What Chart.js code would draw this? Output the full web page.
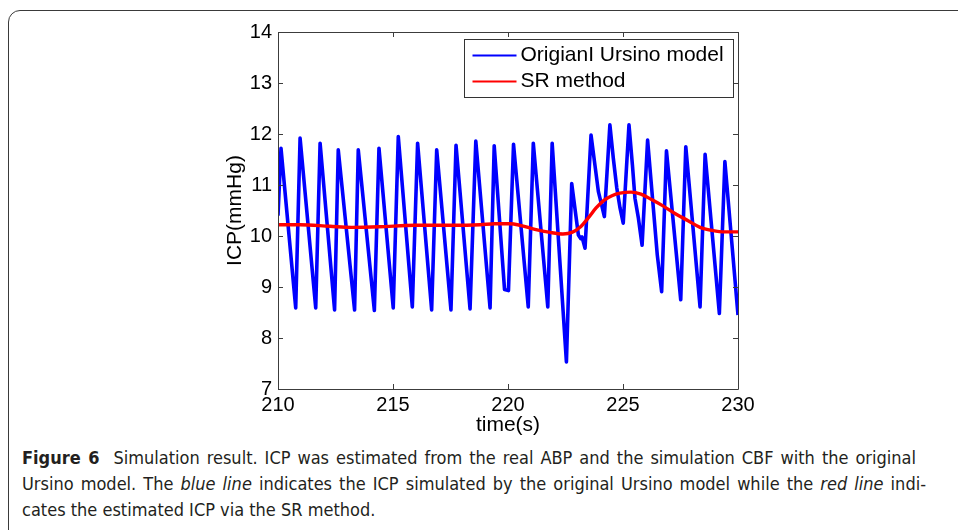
<!DOCTYPE html>
<html><head><meta charset="utf-8">
<script src="https://cdn.jsdelivr.net/npm/chart.js@4/dist/chart.umd.min.js"></script>
<style>
html,body{margin:0;padding:0;background:#fff;}
#wrap{position:relative;width:958px;height:530px;overflow:hidden;background:#fff;}
#frame{position:absolute;left:8px;top:10px;width:1000px;height:600px;border:1.5px solid #3a3a3a;border-top-left-radius:12px;box-sizing:border-box;}
#cv{position:absolute;left:0;top:0;}
.cap{position:absolute;left:22px;font-family:"DejaVu Sans Condensed","Liberation Sans Narrow","Roboto",sans-serif;font-stretch:condensed;font-size:18px;color:#231f20;line-height:26px;white-space:nowrap;}
.j{text-align:justify;text-align-last:justify;}
</style></head>
<body><div id="wrap"><div id="frame"></div>
<canvas id="cv" width="958" height="445"></canvas>
<div class="cap j" style="top:445px;width:894px"><b>Figure 6</b>&nbsp; Simulation result. ICP was estimated from the real ABP and the simulation CBF with the original</div>
<div class="cap j" style="top:471px;width:904px">Ursino model. The <i>blue line</i> indicates the ICP simulated by the original Ursino model while the <i>red line</i> indi-</div>
<div class="cap" style="top:497px;">cates the estimated ICP via the SR method.</div>
</div>
<script>
// ---- data ----
const seriesNames = ["OrigianI Ursino model", "SR method"];
const ursinoTime = [210.00,210.13,210.77,210.96,211.64,211.83,212.46,212.62,213.33,213.49,214.19,214.39,215.01,215.23,215.84,216.07,216.68,216.90,217.52,217.74,218.35,218.60,219.22,219.40,219.85,220.02,220.24,220.88,221.10,221.73,221.92,222.54,222.77,223.06,223.16,223.22,223.35,223.61,223.78,223.93,224.07,224.19,224.43,224.58,224.73,224.87,225.01,225.26,225.41,225.52,225.67,225.83,226.07,226.32,226.49,226.68,226.89,227.51,227.73,228.35,228.57,229.19,229.43,230.00];
const ursinoICP  = [10.40,11.72,8.59,11.92,8.59,11.82,8.55,11.69,8.55,11.69,8.54,11.72,8.59,11.95,8.61,11.82,8.55,11.69,8.55,11.78,8.57,11.86,8.59,11.77,8.95,8.93,11.80,8.61,11.82,8.61,11.82,7.53,11.03,10.02,9.95,9.98,9.76,11.98,11.39,10.87,10.61,10.38,12.18,11.52,10.94,10.55,10.25,12.18,11.39,10.74,10.35,9.82,11.88,10.54,9.63,8.91,11.67,8.75,11.75,8.61,11.60,8.48,11.46,8.45];
const srTime = [210.00,210.96,212.26,213.20,214.40,215.96,217.48,218.78,219.43,220.09,220.52,221.17,221.83,222.39,222.78,223.13,223.48,223.83,224.17,224.52,224.87,225.35,225.78,226.26,226.70,227.26,227.83,228.35,228.87,229.43,230.00];
const srICP  = [10.22,10.22,10.19,10.17,10.18,10.21,10.21,10.22,10.24,10.24,10.21,10.13,10.07,10.04,10.07,10.17,10.35,10.55,10.70,10.79,10.84,10.86,10.82,10.71,10.60,10.44,10.30,10.17,10.11,10.08,10.08];
const xTicks = [210,215,220,225,230];
const yTicks = [7,8,9,10,11,12,13,14];

const toXY = (xs, ys) => xs.map((x, i) => ({x, y: ys[i]}));

const AXIS_COLOR = '#3c3c3c';
const FONT = '"Liberation Sans", Arial, Helvetica, sans-serif';

const boxPlugin = {
  id: 'matlabBox',
  afterDatasetsDraw(chart) {
    const {ctx, chartArea: a, scales: {x, y}} = chart;
    ctx.save();
    ctx.strokeStyle = AXIS_COLOR;
    ctx.lineWidth = 1;
    ctx.beginPath();
    ctx.rect(Math.round(a.left) + 0.5, Math.round(a.top) + 0.5, Math.round(a.right - a.left), Math.round(a.bottom - a.top));
    const tl = 5;
    xTicks.forEach(v => {
      const px = Math.round(x.getPixelForValue(v)) + 0.5;
      ctx.moveTo(px, a.bottom); ctx.lineTo(px, a.bottom - tl);
      ctx.moveTo(px, a.top); ctx.lineTo(px, a.top + tl);
    });
    yTicks.forEach(v => {
      const py = Math.round(y.getPixelForValue(v)) + 0.5;
      ctx.moveTo(a.left, py); ctx.lineTo(a.left + tl, py);
      ctx.moveTo(a.right, py); ctx.lineTo(a.right - tl, py);
    });
    ctx.stroke();

    // legend (MATLAB style, inside axes, north-east)
    const lw = 269, lh = 58;
    const lx = Math.round(a.right - 5 - lw) + 0.5, ly = Math.round(a.top + 7) + 0.5;
    ctx.fillStyle = '#fff';
    ctx.fillRect(lx, ly, lw, lh);
    ctx.strokeStyle = '#333';
    ctx.strokeRect(lx, ly, lw, lh);
    ctx.font = '21px ' + FONT;
    ctx.textBaseline = 'middle';
    ctx.textAlign = 'left';
    chart.data.datasets.forEach((ds, i) => {
      const cy = ly + 16 + i * 26;
      ctx.strokeStyle = ds.borderColor;
      ctx.lineWidth = 2;
      ctx.beginPath();
      ctx.moveTo(lx + 8, cy); ctx.lineTo(lx + 52, cy);
      ctx.stroke();
      ctx.fillStyle = '#000';
      ctx.fillText(ds.label, lx + 56, cy);
    });
    ctx.restore();
  }
};

new Chart(document.getElementById('cv'), {
  type: 'line',
  data: {
    datasets: [
      {label: seriesNames[0], data: toXY(ursinoTime, ursinoICP), borderColor: '#0000ff', borderWidth: 3.6, pointRadius: 0, tension: 0, order: 2, borderJoinStyle: 'round'},
      {label: seriesNames[1], data: toXY(srTime, srICP), borderColor: '#ff0000', borderWidth: 3.4, pointRadius: 0, cubicInterpolationMode: 'monotone', order: 1}
    ]
  },
  options: {
    responsive: false,
    animation: false,
    layout: {padding: {left: 220, right: 220, top: 32, bottom: 5.4}},
    plugins: {legend: {display: false}, tooltip: {enabled: false}},
    scales: {
      x: {
        type: 'linear', min: 210, max: 230,
        afterBuildTicks: s => { s.ticks = xTicks.map(v => ({value: v})); },
        grid: {display: false, drawTicks: false},
        border: {display: false},
        ticks: {color: '#000', font: {family: FONT, size: 20}, padding: 4, maxRotation: 0, autoSkip: false},
        title: {display: true, text: 'time(s)', color: '#000', font: {family: FONT, size: 21}, padding: {top: 0, bottom: 2}},
        afterFit: s => { s.height = 50.6; }
      },
      y: {
        type: 'linear', min: 7, max: 14,
        afterBuildTicks: s => { s.ticks = yTicks.map(v => ({value: v})); },
        grid: {display: false, drawTicks: false},
        border: {display: false},
        ticks: {color: '#000', font: {family: FONT, size: 20}, padding: 6, autoSkip: false},
        title: {display: true, text: 'ICP(mmHg)', color: '#000', font: {family: FONT, size: 21}, padding: {top: 2.4, bottom: 0}},
        afterFit: s => { s.width = 58; }
      }
    }
  },
  plugins: [boxPlugin]
});
</script>
</body></html>
